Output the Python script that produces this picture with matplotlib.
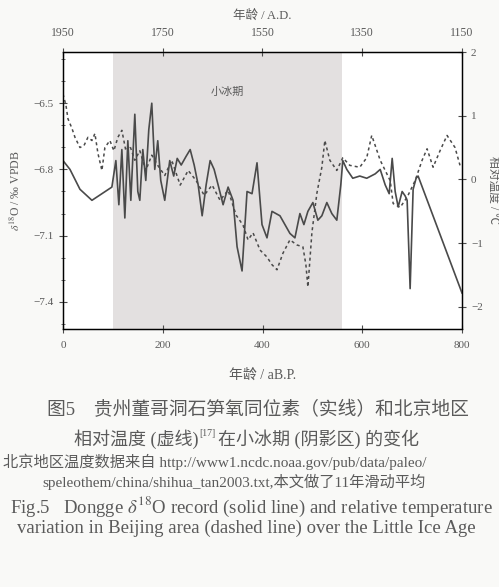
import matplotlib
matplotlib.use("Agg")
import matplotlib.pyplot as plt
from matplotlib.ticker import MultipleLocator, FixedLocator

plt.rcParams['font.family'] = ['Liberation Serif', 'Noto Sans CJK SC', 'DejaVu Sans']
plt.rcParams['mathtext.fontset'] = 'stix'

# Dongge δ18O (solid, left axis)
solid_age = [0, 14, 34, 58, 78, 98, 106, 112, 118, 124, 130, 136, 144, 150, 154, 160, 166, 172, 178,
             184, 190, 196, 204, 214, 222, 229, 237, 247, 255, 263, 271, 279, 287, 295, 303, 311, 321,
             331, 341, 349, 359, 369, 379, 389, 399, 409, 419, 435, 445, 455, 465, 475, 483, 491, 501,
             511, 519, 529, 539, 549, 557, 561, 569, 581, 595, 609, 626, 636, 646, 654, 660, 666, 672,
             680, 686, 690, 696, 702, 708, 712, 800]
solid_d18o = [-6.76, -6.80, -6.89, -6.94, -6.91, -6.88, -6.76, -6.96, -6.71, -7.02, -6.67, -6.94, -6.55,
              -6.90, -6.94, -6.71, -6.85, -6.62, -6.50, -6.80, -6.67, -6.85, -6.94, -6.76, -6.83, -6.75,
              -6.78, -6.74, -6.71, -6.78, -6.87, -7.01, -6.87, -6.76, -6.80, -6.87, -6.96, -6.88, -6.94,
              -7.15, -7.26, -6.90, -6.91, -6.77, -7.05, -7.11, -6.99, -7.01, -7.05, -7.09, -7.11, -7.00,
              -7.05, -6.99, -6.95, -7.03, -7.01, -6.95, -7.00, -7.03, -6.87, -6.76, -6.80, -6.84, -6.83,
              -6.84, -6.82, -6.80, -6.87, -6.91, -6.75, -6.90, -6.97, -6.90, -6.92, -6.94, -7.34, -6.89,
              -6.84, -6.83, -7.36]

# Beijing relative temperature (dashed, right axis)
temp_age = [0, 6, 10, 18, 24, 34, 42, 50, 58, 64, 70, 78, 84, 94, 102, 110, 118, 126, 134, 144, 154,
            166, 178, 190, 204, 218, 235, 251, 267, 283, 299, 315, 331, 347, 361, 371, 381, 395, 409,
            419, 429, 441, 455, 469, 481, 487, 491, 495, 499, 509, 519, 525, 535, 549, 561, 575, 595,
            609, 619, 626, 636, 646, 656, 662, 676, 690, 706, 720, 730, 742, 756, 770, 786, 796]
temp_val = [1.34, 1.16, 0.95, 0.80, 0.66, 0.50, 0.53, 0.66, 0.61, 0.72, 0.41, 0.14, 0.50, 0.61, 0.45,
            0.66, 0.77, 0.45, 0.53, 0.30, 0.45, 0.14, 0.38, 0.22, 0.06, 0.30, -0.09, 0.14, -0.02, -0.25,
            -0.09, -0.33, -0.17, -0.56, -0.72, -0.95, -0.84, -1.11, -1.22, -1.34, -1.42, -1.16, -0.95,
            -1.03, -1.06, -1.34, -1.69, -1.27, -0.84, -0.22, 0.19, 0.61, 0.30, 0.14, 0.34, 0.22, 0.19,
            0.34, 0.69, 0.53, 0.30, 0.14, -0.02, -0.38, -0.44, -0.28, -0.02, 0.30, 0.48, 0.19, 0.45,
            0.69, 0.50, 0.22]

lia_span = [100, 560]
bottom_ticks = [0, 200, 400, 600, 800]
top_labels = ['1950', '1750', '1550', '1350', '1150']
left_ticks = [-6.5, -6.8, -7.1, -7.4]
right_ticks = [-2, -1, 0, 1, 2]

ink = '#4a4a4a'
txt = '#5a5a5a'

fig = plt.figure(figsize=(4.99, 5.87), dpi=100)
fig.patch.set_facecolor('#f9f9f7')
ax = fig.add_axes([63/499, 1-329/587, (462-63)/499, (329-52)/587])
ax.set_facecolor('white')
ax.axvspan(lia_span[0], lia_span[1], color='#e3e0e0', lw=0, zorder=0)
ax.plot(solid_age, solid_d18o, color=ink, lw=1.2, zorder=3)
ax.set_xlim(0, 800)
ax.set_ylim(-7.523, -6.268)
ax.set_xticks(bottom_ticks)
ax.set_xticklabels([str(t) for t in bottom_ticks])
ax.set_yticks(left_ticks)
ax.set_yticklabels(['\u2212%.1f' % abs(t) for t in left_ticks])
ax.yaxis.set_minor_locator(MultipleLocator(0.1))
ax.tick_params(axis='both', which='major', direction='inout', length=6, width=0.8,
               colors=ink, labelsize=8, labelcolor=txt)
ax.tick_params(axis='x', pad=6)
ax.tick_params(axis='y', which='minor', direction='inout', length=3, width=0.6, colors=ink)
ax.set_ylabel('$\\delta^{18}$O / \u2030 VPDB', fontsize=8.5, color=txt, labelpad=8)
ax.set_xlabel('年龄 / aB.P.', fontsize=10, color=txt, labelpad=13)
for s in ax.spines.values():
    s.set_color(ink)
    s.set_linewidth(1.0)
ax.text(329, -6.45, '小冰期', fontsize=8, color=txt, ha='center', va='center')

ax2 = ax.twinx()
ax2.plot(temp_age, temp_val, color=ink, lw=1.1, ls=(0, (2, 2)), zorder=3)
ax2.set_ylim(-2.35, 2.0)
ax2.set_yticks(right_ticks)
ax2.set_yticklabels(['\u2212%d' % abs(t) if t < 0 else str(t) for t in right_ticks])
ax2.tick_params(axis='y', direction='inout', length=6, width=0.8, colors=ink,
                labelsize=8, labelcolor=txt)
ax2.set_ylabel('相对温度 / ℃', fontsize=8.5, color=txt, rotation=270, labelpad=12)

ax3 = ax.twiny()
ax3.set_xlim(ax.get_xlim())
ax3.xaxis.set_major_locator(FixedLocator(bottom_ticks))
ax3.set_xticklabels(top_labels)
ax3.tick_params(axis='x', direction='inout', length=6, width=0.8, colors=ink,
                labelsize=8.5, labelcolor=txt, pad=6)
ax3.set_xlabel('年龄 / A.D.', fontsize=9, color=txt, labelpad=6)

# caption
fig.text(258/499, 1-410/587, '图5　贵州董哥洞石笋氧同位素（实线）和北京地区', fontsize=13.5,
         color=txt, ha='center', va='center')

renderer = fig.canvas.get_renderer()
t1 = fig.text(74/499, 1-439/587, '相对温度 (虚线)', fontsize=13, color=txt,
              ha='left', va='center')
bb = t1.get_window_extent(renderer)
t2 = fig.text(bb.x1/fig.bbox.width + 0.002, 1-433/587, '[17]', fontsize=7, color=txt,
              ha='left', va='center')
bb2 = t2.get_window_extent(renderer)
fig.text(bb2.x1/fig.bbox.width + 0.004, 1-439/587, '在小冰期 (阴影区) 的变化', fontsize=13,
         color=txt, ha='left', va='center')

fig.text(3/499, 1-462/587, '北京地区温度数据来自 http://www1.ncdc.noaa.gov/pub/data/paleo/',
         fontsize=11, color=txt, ha='left', va='center')
fig.text(42/499, 1-482/587, 'speleothem/china/shihua_tan2003.txt,本文做了11年滑动平均',
         fontsize=11, color=txt, ha='left', va='center')
fig.text(10/499, 1-507/587, 'Fig.5   Dongge $\\delta^{18}$O record (solid line) and relative temperature',
         fontsize=13.5, color=txt, ha='left', va='center')
fig.text(17/499, 1-528/587, 'variation in Beijing area (dashed line) over the Little Ice Age',
         fontsize=13.5, color=txt, ha='left', va='center')

fig.savefig('out.png', dpi=100, facecolor=fig.get_facecolor())
